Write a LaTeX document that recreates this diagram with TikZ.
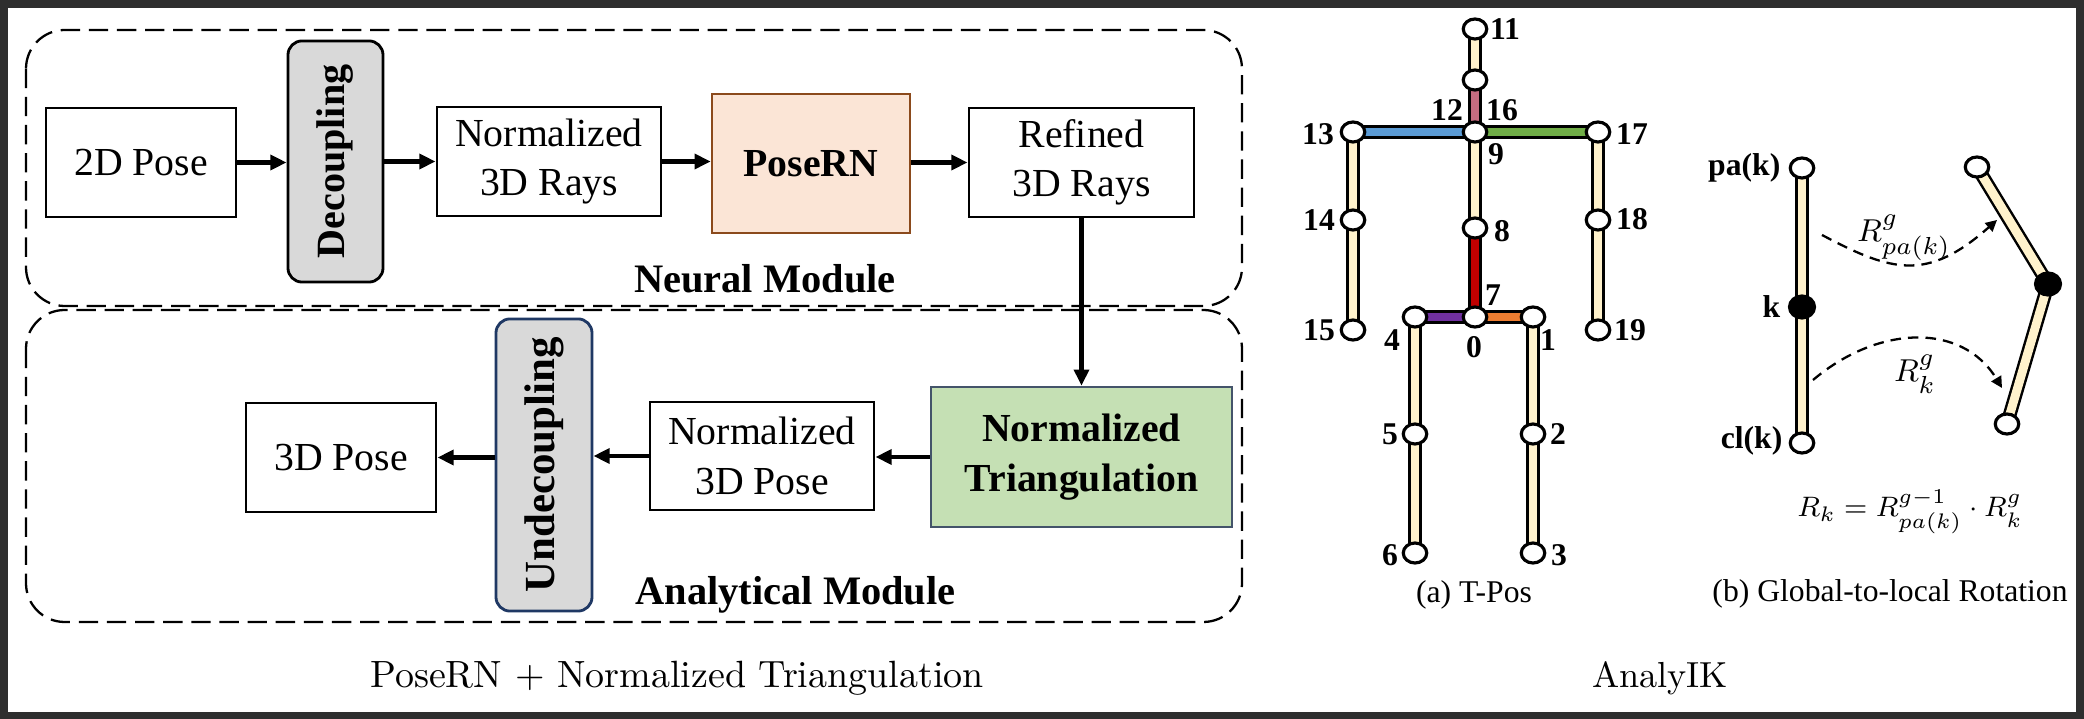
\documentclass[tikz,border=0pt]{standalone}
\usepackage{fontspec}
\setmainfont{Liberation Serif}
\usepackage{tikz}
\usetikzlibrary{arrows.meta,shapes.geometric}
\tikzset {>=Stealth}
\newcommand*{\sz}[2]{\fontsize{#1}{#2}\selectfont}
\newcommand*{\capfont}{\fontfamily{lmr}\selectfont}
\definecolor{cFrame}{HTML}{2E2E2E}
\definecolor{cGray}{HTML}{D9D9D9}
\definecolor{cPeach}{HTML}{FBE5D6}
\definecolor{cBrown}{HTML}{8B4A1C}
\definecolor{cGreen}{HTML}{C5E0B4}
\definecolor{cSlate}{HTML}{44546A}
\definecolor{cNavy}{HTML}{1F3864}
\definecolor{cCream}{HTML}{FFF2CC}
\definecolor{cMauve}{HTML}{C46C80}
\definecolor{cBlue}{HTML}{5B9BD5}
\definecolor{cLime}{HTML}{70AD47}
\definecolor{cRed}{HTML}{C00000}
\definecolor{cPurple}{HTML}{7030A0}
\definecolor{cOrange}{HTML}{ED7D31}

\begin{document}
\begin{tikzpicture}[x=0.01cm,y=-0.01cm,
  stagebox/.style={draw,line width=0.8pt,inner sep=0pt,align=center,font=\sz{11.3}{14}},
  flowarrow/.style={-{Triangle[length=4.6pt,width=4.2pt]},line width=1.35pt},
  modbox/.style={draw,line width=0.65pt,dash pattern=on 5.5pt off 2.5pt,rounded corners=11pt},
  modtitle/.style={anchor=base,inner sep=0pt,font=\bfseries\sz{11.5}{14}},
  jointnode/.style={draw,ellipse,fill=white,line width=0.9pt,minimum width=0.235cm,minimum height=0.2cm,inner sep=0pt},
  boneout/.style={line width=3.9pt},
  bonein/.style={line width=2.5pt},
  numlab/.style={inner sep=0pt,font=\bfseries\sz{9}{10}},
  rotarrow/.style={line width=0.65pt,dash pattern=on 3pt off 2pt,-{Triangle[length=3.2pt,width=3.2pt]}}]
\useasboundingbox (0,0) rectangle (2084,719);
\fill[cFrame] (0,0) rectangle (2084,719);
\fill[white] (8,8) rectangle (2076,712);

\draw[modbox] (26,30) rectangle (1242,306);
\draw[modbox] (26,310) rectangle (1242,622);

\node[stagebox,minimum width=1.9cm,minimum height=1.09cm] (pose2d) at (141,162.5) {2D Pose};
\node[stagebox,fill=cGray,rounded corners=4pt,minimum width=0.95cm,minimum height=2.41cm] (dec) at (335.5,161.5) {\rotatebox{90}{\bfseries\sz{11.4}{13}Decoupling}};
\node[stagebox,minimum width=2.24cm,minimum height=1.09cm] (rays) at (549,161.5) {Normalized\\3D Rays};
\node[stagebox,draw=cBrown,fill=cPeach,line width=0.7pt,minimum width=1.98cm,minimum height=1.39cm,font=\bfseries\sz{11.3}{14}] (posern) at (811,163.5) {PoseRN};
\node[stagebox,minimum width=2.25cm,minimum height=1.09cm] (refined) at (1081.5,162.5) {Refined\\3D Rays};
\node[stagebox,draw=cSlate,fill=cGreen,line width=0.7pt,minimum width=3.01cm,minimum height=1.4cm,font=\bfseries\sz{11.3}{14}] (tri) at (1081.5,457) {Normalized\\Triangulation};
\node[stagebox,minimum width=2.24cm,minimum height=1.08cm] (npose) at (762,456) {Normalized\\3D Pose};
\node[stagebox,draw=cNavy,fill=cGray,rounded corners=4pt,minimum width=0.96cm,minimum height=2.92cm] (undec) at (544,465) {\rotatebox{90}{\bfseries\sz{12.2}{14}Undecoupling}};
\node[stagebox,minimum width=1.9cm,minimum height=1.09cm] (pose3d) at (341,457.5) {3D Pose};

\draw[flowarrow] (pose2d.east) -- (pose2d.east -| dec.west);
\draw[flowarrow] (dec.east |- rays.west) -- (rays.west);
\draw[flowarrow] (rays.east) -- (rays.east -| posern.west);
\draw[flowarrow] (posern.east |- refined.west) -- (refined.west);
\draw[flowarrow] (refined.south) -- (tri.north);
\draw[flowarrow] (tri.west) -- (tri.west -| npose.east);
\draw[flowarrow] (npose.west) -- (npose.west -| undec.east);
\draw[flowarrow] (undec.west |- pose3d.east) -- (pose3d.east);

\node[modtitle] (neural) at (765,293) {Neural Module};
\node[modtitle] (analytic) at (795.5,605) {Analytical Module};
\node[anchor=base,inner sep=0pt,font=\capfont\sz{10.8}{13}] (capl) at (677,688) {PoseRN + Normalized Triangulation};
\node[anchor=base,inner sep=0pt,font=\capfont\sz{10.3}{13}] (capr) at (1660,688) {AnalyIK};

\foreach \j/\x/\y in {11/1475/29,10/1475/80,9/1475/132,13/1353/132,14/1353/220,15/1353/330,17/1598/132,18/1598/220,19/1598/330,8/1475/228,0/1475/317,4/1415/317,5/1415/434,6/1415/553,1/1533/317,2/1533/434,3/1533/553}
  \coordinate (P\j) at (\x,\y);
\foreach \a/\b/\c in {11/10/cCream,10/9/cMauve,9/13/cBlue,13/14/cCream,14/15/cCream,9/17/cLime,17/18/cCream,18/19/cCream,9/8/cCream,8/0/cRed,0/4/cPurple,4/5/cCream,5/6/cCream,0/1/cOrange,1/2/cCream,2/3/cCream}
{
  \draw[boneout] (P\a) -- (P\b);
  \draw[bonein,\c] (P\a) -- (P\b);
}
\foreach \j in {11,10,9,13,14,15,17,18,19,8,0,4,5,6,1,2,3}
  \node[jointnode] (J\j) at (P\j) {};
\foreach \t/\x/\y in {11/1505/29,12/1447/110,16/1502/110,9/1496/154,13/1318/134,17/1632/134,14/1319/220,18/1632/219,15/1319/330,19/1630/330,8/1502/231,7/1493/295,0/1474/347,4/1392/340,1/1548/340,5/1390/434,2/1558/434,6/1390/555,3/1559/555}
  \node[numlab] (N\t) at (\x,\y) {\t};
\node[anchor=base,inner sep=0pt,font=\sz{9}{11}] (capa) at (1474,603) {(a) T-Pos};

\coordinate (pa) at (1802,168);
\coordinate (kk) at (1802,307);
\coordinate (cl) at (1802,443);
\coordinate (qa) at (1977,167);
\coordinate (qk) at (2048,284);
\coordinate (qc) at (2007,424);
\foreach \a/\b in {pa/kk,kk/cl,qa/qk,qk/qc}
{
  \draw[boneout] (\a) -- (\b);
  \draw[bonein,cCream] (\a) -- (\b);
}
\node[jointnode] (Jpa) at (pa) {};
\node[jointnode,fill=black,minimum width=0.25cm,minimum height=0.22cm] (Jkk) at (kk) {};
\node[jointnode] (Jcl) at (cl) {};
\node[jointnode] (Jqa) at (qa) {};
\node[jointnode,fill=black,minimum width=0.25cm,minimum height=0.22cm] (Jqk) at (qk) {};
\node[jointnode] (Jqc) at (qc) {};
\node[numlab,anchor=east] (Npa) at (1781,168) {pa(k)};
\node[numlab,anchor=east] (Nkk) at (1781,307) {k};
\node[numlab,anchor=east] (Ncl) at (1783,441) {cl(k)};

\coordinate (r1s) at (1822,235);
\coordinate (r1e) at (1997,220);
\coordinate (r2s) at (1813,380);
\coordinate (r2e) at (2002,388);
\draw[rotarrow] (r1s) .. controls (1892,272) and (1927,282) .. (r1e);
\draw[rotarrow] (r2s) .. controls (1878,325) and (1962,322) .. (r2e);
\node[inner sep=0pt,font=\sz{9.5}{10}] (Rpa) at (1904,238) {$R^{g}_{pa(k)}$};
\node[inner sep=0pt,font=\sz{9.5}{10}] (Rkk) at (1915,374) {$R^{g}_{k}$};
\node[anchor=base,inner sep=0pt,font=\sz{8.5}{10}] (eq) at (1910,517) {$R_k = R^{g-1}_{pa(k)} \cdot R^{g}_{k}$};
\node[anchor=base,inner sep=0pt,font=\sz{9}{11}] (capb) at (1890,602) {(b) Global-to-local Rotation};
\end{tikzpicture}
\end{document}
